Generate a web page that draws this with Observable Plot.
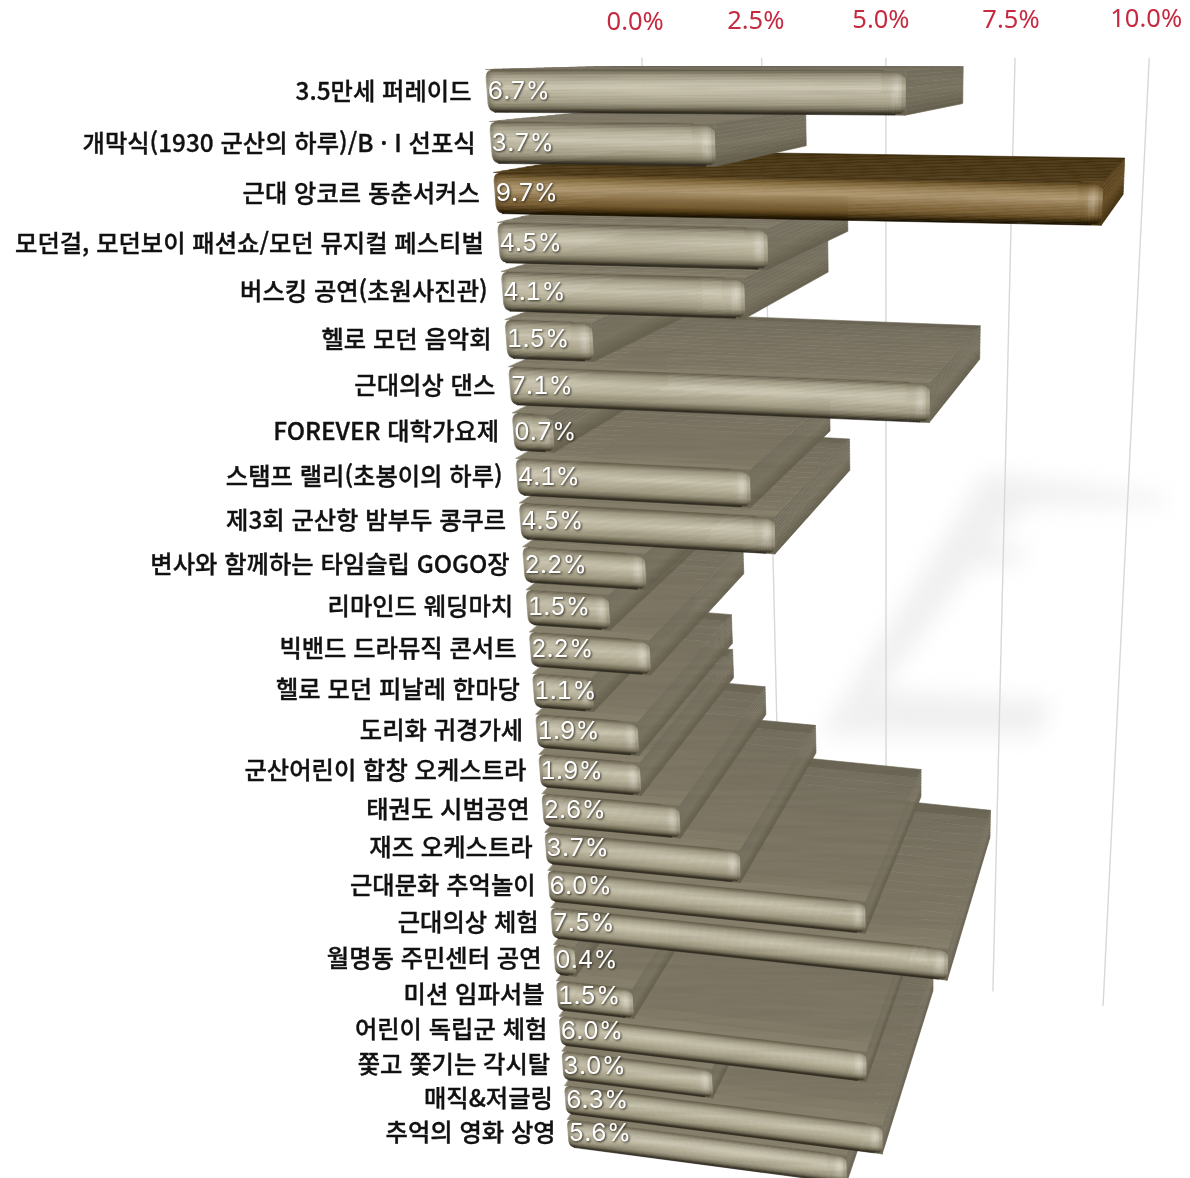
<!DOCTYPE html>
<html lang="ko">
<head>
<meta charset="utf-8">
<script src="https://cdn.jsdelivr.net/npm/d3@7"></script>
<script src="https://cdn.jsdelivr.net/npm/@observablehq/plot@0.6"></script>
<style>
html,body{margin:0;padding:0;background:#fff}
svg{display:block}
.soft{filter:blur(11px)}
.bars{filter:url(#grain)}
.vals text{filter:drop-shadow(1px 1px 1px rgba(30,26,16,.85))}
.cats text{filter:blur(.25px)}
.ticks text{filter:blur(.25px)}
</style>
</head>
<body>
<svg width="0" height="0" style="position:absolute">
  <filter id="grain" x="0" y="0" width="100%" height="100%" color-interpolation-filters="sRGB">
    <feGaussianBlur in="SourceGraphic" stdDeviation=".6" result="soft"/>
    <feTurbulence type="fractalNoise" baseFrequency=".01 .2" numOctaves="2" seed="4" result="n"/>
    <feColorMatrix in="n" type="matrix" values="0 0 0 0 .25  0 0 0 0 .23  0 0 0 0 .17  .18 0 0 0 -.065" result="tint"/>
    <feComposite in="tint" in2="soft" operator="in" result="tex"/>
    <feMerge><feMergeNode in="soft"/><feMergeNode in="tex"/></feMerge>
  </filter>
</svg>
<div id="chart"></div>
<script>
const categories = ["3.5만세 퍼레이드","개막식(1930 군산의 하루)/B · I 선포식","근대 앙코르 동춘서커스","모던걸, 모던보이 패션쇼/모던 뮤지컬 페스티벌","버스킹 공연(초원사진관)","헬로 모던 음악회","근대의상 댄스","FOREVER 대학가요제","스탬프 랠리(초봉이의 하루)","제3회 군산항 밤부두 콩쿠르","변사와 함께하는 타임슬립 GOGO장","리마인드 웨딩마치","빅밴드 드라뮤직 콘서트","헬로 모던 피날레 한마당","도리화 귀경가세","군산어린이 합창 오케스트라","태권도 시범공연","재즈 오케스트라","근대문화 추억놀이","근대의상 체험","월명동 주민센터 공연","미션 임파서블","어린이 독립군 체험","쫓고 쫓기는 각시탈","매직&저글링","추억의 영화 상영"];
const values = [6.7,3.7,9.7,4.5,4.1,1.5,7.1,0.7,4.1,4.5,2.2,1.5,2.2,1.1,1.9,1.9,2.6,3.7,6.0,7.5,0.4,1.5,6.0,3.0,6.3,5.6];
const highlighted = "근대 앙코르 동춘서커스";
const axisTicks = [0,2.5,5,7.5,10];
const shadowMain = [[8.02,7.39],[10.88,7.69],[10.88,7.89],[8.76,8.04],[8.28,8.6],[6.29,12.36],[9.18,12.3],[9.03,13.13],[5.23,13.54],[8.02,7.39]];
const shadowMid = [[7.63,8.87],[8.77,8.96],[8.62,9.27],[7.39,9.54],[7.63,8.87]];

// Camera: (value, row, depth) -> page. Front plane homography + vanishing point of the depth axis.
const cam = {a:55.8,b:8.9,c:487,d:-0.39,e:52.97,f:91,g:-0.00725,h:0.00996, vx:1225, vy:50, depth:0.18, fall:0.009, wall:1.17};
const perspective = d3.geoTransform({
  point(v, r, z) {
    if (z === undefined) z = r < -1 ? cam.wall : 0;
    const w = 1 + cam.g*v + cam.h*r;
    const x = (cam.c + cam.a*v + cam.b*r)/w, y = (cam.f + cam.d*v + cam.e*r)/w;
    const t = z*cam.depth/(1 + cam.fall*r);
    this.stream.point(x + t*(cam.vx - x), y + t*(cam.vy - y));
  }
});

const frontStops = [0,.05,.14,.3,.42,.6,.78,.9,.96,1];
const khakiFront = d3.scaleLinear().domain(frontStops)
  .range(["#5f5948","#77705d","#a09a84","#c0bba5","#cbc6b1","#bab49d","#a19b84","#716b57","#3d382a","#26231a"]);
const brownFront = d3.scaleLinear().domain(frontStops)
  .range(["#3a2a0e","#553f1a","#7d6336","#a58c62","#ad966e","#8d7247","#755a2e","#46330f","#241803","#171002"]);
const khakiTop = d3.scaleLinear().domain([0,.12,.5,.9,1]).range(["#87806c","#7e7765","#7c7564","#767060","#5c5646"]);
const brownTop = d3.scaleLinear().domain([0,.2,.9,1]).range(["#4f3b17","#4a3614","#46330f","#33250a"]);
const khakiSide = d3.scaleLinear().domain([0,.5,1]).range(["#757060","#7a7462","#655f4e"]);
const brownSide = d3.scaleLinear().domain([0,.5,1]).range(["#5d4520","#664c24","#3c2b0c"]);

const ring = pts => ({type:"Polygon",coordinates:[[...pts,pts[0]]]});
const piece = (pts, fill) => ({type:"Feature",geometry:ring(pts),properties:{fill}});
const mixTo = (c, other, amt) => d3.interpolateRgb(c, other)(amt);

const UP=.42, DOWN=.40;
function inset(s, Rt, Rb){
  const k=.45, u=Math.max(0,(Math.abs(2*s-1)-(1-k))/k), R=s<.5?Rt:Rb;
  return R*(1-Math.sqrt(1-u*u));
}
function barPieces(value, r, hot){
  const out=[], top=r-UP, bot=r+DOWN;
  const F=hot?brownFront:khakiFront, T=hot?brownTop:khakiTop, S=hot?brownSide:khakiSide;
  for(let i=0;i<10;i++){const s0=i/10,s1=(i+1)/10;const a=top+(bot-top)*s0,b=top+(bot-top)*s1;
    out.push(piece([[value,a,0],[value,a,1],[value,b,1],[value,b,0]],S(s0)));}
  for(let i=0;i<16;i++){const z0=i/16,z1=(i+1)/16;
    out.push(piece([[0,top,z0],[value,top,z0],[value,top,z1],[0,top,z1]],T(z0)));}
  // front face: rows of cells with rounded ends, brightened streak before the right end
  const n=30, Rt=Math.min(.36,value/2), Rb=Math.min(.16,value/2), L=.1;
  // backing so that the rounded right corners show the body, not the page
  const mid=top+(bot-top)*.5;
  out.push(piece([[value-Rt,top,0],[value,top,0],[value,mid,0],[value-Rt,mid,0]],S(.2)));
  out.push(piece([[value-Rb,mid,0],[value,mid,0],[value,bot,0],[value-Rb,bot,0]],S(.9)));
  const E=.3, cols=[0,.035,.07,.11];
  for(let k=6;k>=0;k--) cols.push(value-E*k/6);
  const vs=[...new Set(cols.filter(v=>v>=0&&v<=value))].sort((p,q)=>p-q);
  for(let i=0;i<n;i++){
    const s0=i/n,s1=(i+1)/n,sm=(s0+s1)/2;
    const a=top+(bot-top)*s0,b=top+(bot-top)*s1;
    const m=Math.pow(Math.sin(Math.PI*Math.min(1,sm*1.05)),1.5);
    const l0=inset(s0,L,L),l1=inset(s1,L,L),e0=value-inset(s0,Rt,Rb),e1=value-inset(s1,Rt,Rb);
    for(let j=0;j<vs.length-1;j++){
      const v0=vs[j],v1=vs[j+1],vm=(v0+v1)/2;
      const x0a=Math.max(v0,l0),x1a=Math.min(v1,e0),x0b=Math.max(v0,l1),x1b=Math.min(v1,e1);
      if(x1a<=x0a||x1b<=x0b) continue;
      let c=F(sm);
      const e=(value-vm)/E;
      if(value>.6){
        if(e<1) c=mixTo(c,"#fff",.3*m*Math.exp(-Math.pow((e-.45)/.22,2)));
        if(e<.2) c=mixTo(c,"#2a2618",.18*(1-e/.2));
      }
      if(vm<.11) c=mixTo(c,"#2a2618",.32*(1-vm/.11));
      out.push(piece([[x0a,a,0],[x1a,a,0],[x1b,b,0],[x0b,b,0]],c));
    }
  }
  return out;
}
const bars = categories.map((c,r)=>({c,r,value:values[r]}));
const features = bars.slice().reverse().flatMap(d=>barPieces(d.value,d.r,d.c===highlighted));
const gridLines = axisTicks.map(v=>({type:"LineString",coordinates:[[v,-.6,cam.wall],[v,25.1,cam.wall]]}));
const shadow = [shadowMain,shadowMid].map(p=>({type:"Polygon",coordinates:[p]}));

const fmt = d3.format(".1f");
const plot = Plot.plot({
  width:1190, height:1178, margin:0,
  projection: perspective,
  color:{type:"identity"},
  style:{background:"#fff",overflow:"visible"},
  marks:[
    Plot.geo(shadow,{fill:"#f0f0f0",stroke:"none",className:"soft"}),
    Plot.geo(gridLines,{stroke:"#d8d8d8",strokeWidth:1.4,fill:"none"}),
    Plot.geo(features,{fill:d=>d.properties.fill,stroke:d=>d.properties.fill,strokeWidth:.6,className:"bars"}),
    Plot.text(axisTicks,{x:d=>d,y:()=>-1.5,dx:-5,dy:1,text:d=>fmt(d)+"%",fill:"#c62a40",fontSize:25.5,fontFamily:"'Noto Sans'",className:"ticks"}),
    Plot.text(bars,{x:()=>-.27,y:"r",dy:1,text:"c",textAnchor:"end",fill:"#111",stroke:"#111",strokeWidth:.35,fontSize:24.3,fontWeight:500,fontFamily:"'Noto Sans CJK KR'",className:"cats"}),
    Plot.text(bars,{x:()=>0,y:"r",text:d=>fmt(d.value)+"%",textAnchor:"start",fill:"#fff",fontSize:24.5,fontVariant:"tabular-nums",fontFamily:"Inter",className:"vals"})
  ]
});
document.getElementById("chart").append(plot);
</script>
</body>
</html>
